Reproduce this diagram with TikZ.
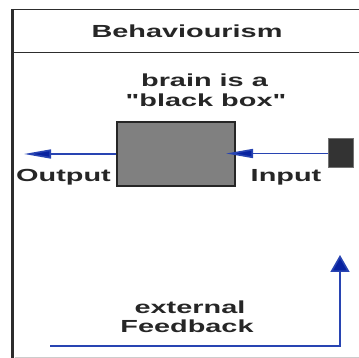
\documentclass[tikz,border=0pt]{standalone}
\usepackage{fontspec}
\usepackage{graphicx}
\setmainfont[Ligatures=TeXOff]{Liberation Sans}
\usetikzlibrary{arrows.meta}
\definecolor{flowblue}{RGB}{40,68,178}
\definecolor{headblue}{RGB}{8,34,160}
\definecolor{framegray}{RGB}{45,45,45}
\newcommand{\stretchtxt}[1]{\scalebox{1.65}[1]{#1}}
\tikzset{
  lbl/.style={font=\fontsize{17.5}{20}\selectfont\bfseries, inner sep=0pt, anchor=base, text=black!85},
  frameline/.style={draw=framegray, line width=1.5pt},
  flow/.style={draw=flowblue, line width=1.6pt},
  hflow/.style={flow, -{Triangle[length=27pt,width=9pt,fill=headblue]}},
  vflow/.style={flow, -{Triangle[length=17pt,width=19pt,fill=headblue]}},
  blackbox/.style={draw=black!85, fill=black!50, line width=2pt, inner sep=0pt},
  source/.style={draw=black!55, fill=black!80, line width=1pt, inner sep=0pt}
}
\begin{document}
\begin{tikzpicture}[x=1pt, y=-1pt]
  \useasboundingbox (0,0) rectangle (359,358);
  % panel frame
  \coordinate (tl) at (12.5,9.5);
  \coordinate (tr) at (359,9.5);
  \coordinate (bl) at (12.5,358);
  \coordinate (dl) at (12.5,52.5);
  \coordinate (dr) at (359,52.5);
  \coordinate (fl) at (15,357);
  \coordinate (fr) at (359,357);
  \draw[black!20, line width=1pt] (fl) -- (fr);
  \draw[frameline] (tl) -- (tr);
  \draw[frameline] (dl) -- (dr);
  \draw[draw=framegray, line width=2.4pt] (tl) -- (bl);

  % title
  \node[lbl] (title) at (187,38) {\stretchtxt{Behaviourism}};

  % caption above the box
  \node[lbl] (cap1) at (204.5,87) {\stretchtxt{brain is a}};
  \node[lbl] (cap2) at (206,107) {\stretchtxt{"black box"}};

  % the black box and the stimulus source
  \node[blackbox, minimum width=118pt, minimum height=64pt] (box) at (176,154) {};
  \node[source, minimum width=25pt, minimum height=29pt] (inp) at (340.5,153.5) {};

  % stimulus in, response out
  \coordinate (outend) at (24,154);
  \draw[hflow] (inp.west) -- ([xshift=-10pt]box.east |- inp.west);
  \draw[hflow] (box.west) -- (outend);
  \node[lbl] (outlbl) at (63.5,182) {\stretchtxt{Output}};
  \node[lbl] (inlbl) at (286,182) {\stretchtxt{Input}};

  % external feedback loop
  \coordinate (fbstart) at (50,346);
  \coordinate (fbcorner) at (340,346);
  \coordinate (fbend) at (340,255);
  \draw[vflow] (fbstart) -- (fbcorner) -- (fbend);
  \node[lbl] (fb1) at (190,313) {\stretchtxt{external}};
  \node[lbl] (fb2) at (187,332) {\stretchtxt{Feedback}};
\end{tikzpicture}
\end{document}
